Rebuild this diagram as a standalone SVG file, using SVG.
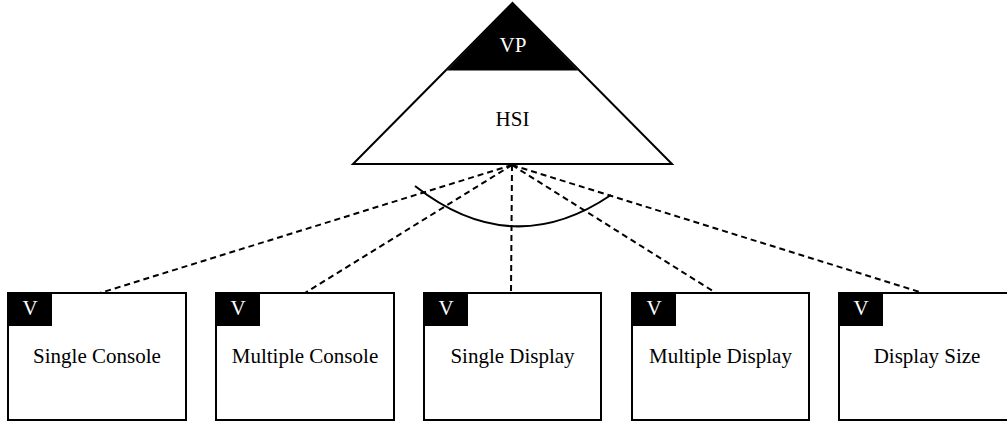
<svg xmlns="http://www.w3.org/2000/svg" width="1007" height="423" viewBox="0 0 1007 423">
<style>
.box{fill:#fff;stroke:#000;stroke-width:2}
.tag{fill:#000}
.lbl{font-family:"Liberation Serif","Times New Roman",serif;font-size:21px;fill:#000;text-anchor:middle}
.tagtxt{font-family:"Liberation Serif","Times New Roman",serif;font-size:21px;fill:#fff;text-anchor:middle}
.dash{fill:none;stroke:#000;stroke-width:2;stroke-dasharray:6,4}
</style>
<rect width="1007" height="423" fill="#fff"/>
<g id="connectors">
<line class="dash" x1="512" y1="165" x2="100" y2="293"/>
<line class="dash" x1="512" y1="165" x2="305" y2="293"/>
<line class="dash" x1="512" y1="165" x2="511" y2="293"/>
<line class="dash" x1="512" y1="165" x2="716" y2="293"/>
<line class="dash" x1="512" y1="165" x2="923" y2="293"/>
<path d="M415,186 Q512,262 611,195" fill="none" stroke="#000" stroke-width="2"/>
</g>
<g id="vp-hsi">
<polygon points="512.5,3 672,164 353,164" fill="#fff" stroke="#000" stroke-width="2"/>
<polygon points="512.5,3 578,70.5 447,70.5" fill="#000"/>
<text class="tagtxt" x="513" y="52">VP</text>
<text class="lbl" x="512.5" y="126">HSI</text>
</g>
<g id="single-console">
<rect class="box" x="8" y="293" width="178" height="127"/>
<rect class="tag" x="8" y="293" width="44" height="33"/>
<text class="tagtxt" x="30" y="315">V</text>
<text class="lbl" x="97" y="363">Single Console</text>
</g>
<g id="multiple-console">
<rect class="box" x="216" y="293" width="178" height="127"/>
<rect class="tag" x="216" y="293" width="44" height="33"/>
<text class="tagtxt" x="238" y="315">V</text>
<text class="lbl" x="305" y="363">Multiple Console</text>
</g>
<g id="single-display">
<rect class="box" x="424" y="293" width="177" height="127"/>
<rect class="tag" x="424" y="293" width="44" height="33"/>
<text class="tagtxt" x="446" y="315">V</text>
<text class="lbl" x="512.5" y="363">Single Display</text>
</g>
<g id="multiple-display">
<rect class="box" x="632" y="293" width="177" height="127"/>
<rect class="tag" x="632" y="293" width="44" height="33"/>
<text class="tagtxt" x="654" y="315">V</text>
<text class="lbl" x="720.5" y="363">Multiple Display</text>
</g>
<g id="display-size">
<rect class="box" x="839" y="293" width="178" height="127"/>
<rect class="tag" x="839" y="293" width="44" height="33"/>
<text class="tagtxt" x="861" y="315">V</text>
<text class="lbl" x="927" y="363">Display Size</text>
</g>
</svg>
